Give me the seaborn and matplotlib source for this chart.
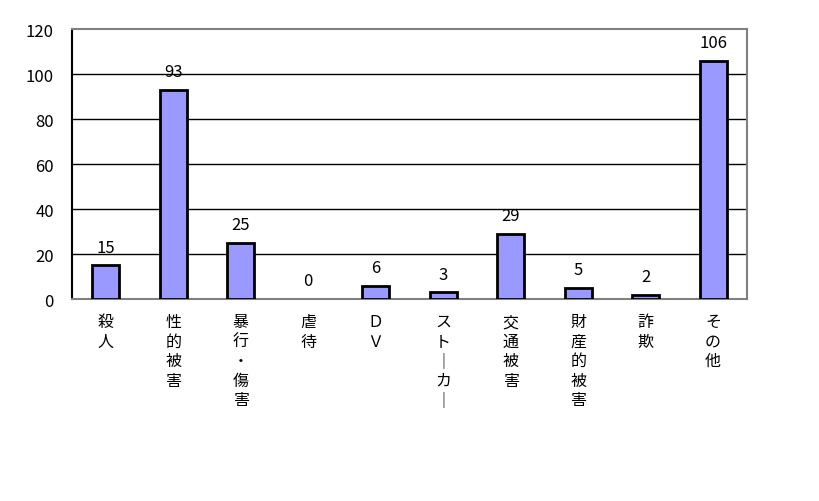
import numpy as np
import pandas as pd
import seaborn as sns
import matplotlib.pyplot as plt

# data
categories = ["殺人", "性的被害", "暴行・傷害", "虐待", "ＤＶ", "ストーカー", "交通被害", "財産的被害", "詐欺", "その他"]
counts = [15, 93, 25, 0, 6, 3, 29, 5, 2, 106]
y_ticks = [0, 20, 40, 60, 80, 100, 120]

sns.set_style("white")
plt.rcParams['font.family'] = ['Noto Sans CJK JP', 'DejaVu Sans']
plt.rcParams['text.color'] = 'black'
plt.rcParams['xtick.color'] = 'black'
plt.rcParams['ytick.color'] = 'black'

df = pd.DataFrame({"category": categories, "count": counts})

fig = plt.figure(figsize=(8.19, 5.02), dpi=100)
ax = fig.add_axes([0.0879, 0.402, 0.824, 0.538])

sns.barplot(data=df, x="category", y="count", color="#9999ff", saturation=1,
            width=0.4, edgecolor="black", linewidth=2, ax=ax, zorder=3)
# a zero bar draws nothing in the reference
for patch, v in zip(ax.patches, counts):
    if v == 0:
        patch.set_visible(False)

ax.set_ylim(0, 120)
ax.set_xlim(-0.5, len(categories) - 0.5)
ax.set_yticks(y_ticks)
ax.set_yticklabels([str(t) for t in y_ticks], fontsize=12)
ax.tick_params(axis="y", length=0, pad=13)
for t in y_ticks[1:-1]:
    ax.axhline(t, color="black", linewidth=1, zorder=1)

# category labels stacked vertically, one character per line
def stack(label):
    return "\n".join(label.replace("ー", "｜"))

ax.set_xticks(range(len(categories)))
ax.set_xticklabels([stack(c) for c in categories], fontsize=11.5, va="top",
                   linespacing=1.2)
ax.tick_params(axis="x", length=0, pad=10)
ax.set_xticks(np.arange(0.5, len(categories) - 0.5, 1), minor=True)
ax.tick_params(axis="x", which="minor", direction="in", length=4, color="black")

for i, v in enumerate(counts):
    ax.annotate(str(v), (i, v), xytext=(0, 7), textcoords="offset points",
                ha="center", va="bottom", fontsize=12, color="black")

for side in ["top", "right", "bottom"]:
    ax.spines[side].set_color("#808080")
    ax.spines[side].set_linewidth(1.5)
ax.spines["left"].set_color("black")
ax.spines["left"].set_linewidth(1.5)

ax.set_xlabel("")
ax.set_ylabel("")

fig.savefig("out.png", dpi=100)
